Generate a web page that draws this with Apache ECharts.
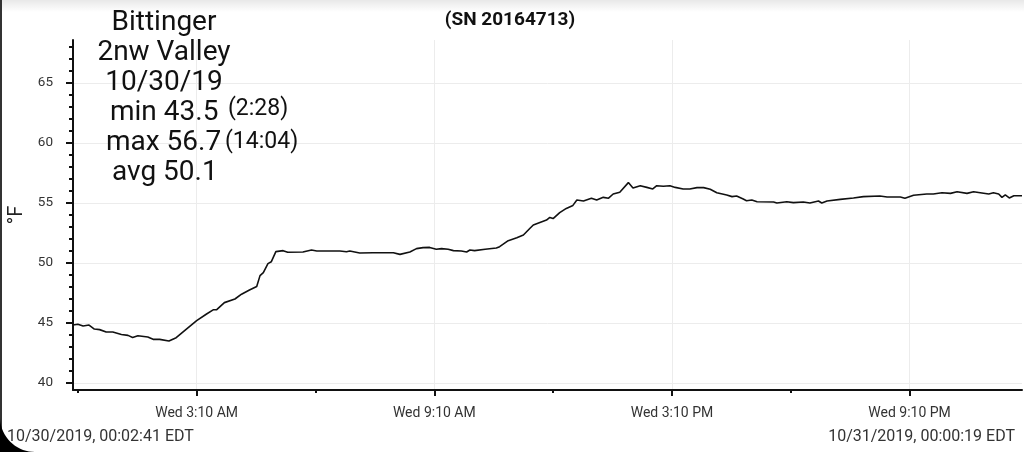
<!DOCTYPE html>
<html>
<head>
<meta charset="utf-8">
<script src="https://cdn.jsdelivr.net/npm/echarts@6/dist/echarts.min.js"></script>
<style>
  html, body { margin: 0; padding: 0; background: #fff; }
  #chart { width: 1024px; height: 452px; }
</style>
</head>
<body>
<div id="chart"></div>
<script>
// minutes since midnight, 10/30/2019
const times = [2.7, 10, 18, 27, 35, 43, 53, 63, 76, 86, 93, 101, 116, 124, 134, 148, 159, 174, 190,
  205, 215, 220, 232, 248, 258, 270, 281, 286, 291, 298, 303, 310, 321, 328, 351, 364, 372, 407,
  417, 422, 437, 457, 488, 498, 513, 523, 533, 543, 553, 561, 571, 579, 591, 599, 604, 611, 627,
  644, 649, 662, 675, 685, 695, 700, 713, 720, 725, 730, 740, 750, 760, 766, 776, 788, 796, 806,
  814, 821, 831, 844, 851, 862, 872, 881, 887, 897, 907, 915, 927, 937, 948, 958, 968, 978, 993,
  1001, 1008, 1018, 1023, 1031, 1039, 1064, 1069, 1084, 1094, 1109, 1119, 1132, 1137, 1145, 1165,
  1185, 1200, 1225, 1236, 1256, 1263, 1276, 1296, 1306, 1319, 1332, 1342, 1357, 1367, 1377, 1390,
  1397, 1405, 1410, 1415, 1421, 1428, 1440.3]
// °F
const temps = [44.83, 44.9, 44.75, 44.83, 44.5, 44.45, 44.25, 44.25, 44.05, 43.97, 43.8, 43.94, 43.83,
  43.64, 43.64, 43.5, 43.78, 44.47, 45.2, 45.75, 46.1, 46.1, 46.7, 47.0, 47.4, 47.75, 48.05, 48.95,
  49.2, 49.95, 50.1, 50.95, 51.03, 50.9, 50.92, 51.08, 51.0, 51.0, 50.94, 51.0, 50.83, 50.86, 50.86,
  50.72, 50.92, 51.2, 51.28, 51.3, 51.14, 51.2, 51.14, 51.03, 51.0, 50.92, 51.08, 51.03, 51.14,
  51.25, 51.36, 51.86, 52.1, 52.33, 52.9, 53.17, 53.44, 53.58, 53.8, 53.7, 54.2, 54.55, 54.8, 55.25,
  55.17, 55.4, 55.25, 55.47, 55.4, 55.75, 55.9, 56.7, 56.25, 56.44, 56.3, 56.17, 56.44, 56.39, 56.44,
  56.3, 56.17, 56.17, 56.28, 56.28, 56.14, 55.86, 55.67, 55.53, 55.58, 55.33, 55.19, 55.25, 55.1,
  55.08, 55.0, 55.1, 55.03, 55.08, 55.0, 55.17, 55.0, 55.17, 55.3, 55.42, 55.53, 55.58, 55.5, 55.5,
  55.39, 55.64, 55.75, 55.75, 55.86, 55.8, 55.94, 55.8, 55.94, 55.86, 55.75, 55.86, 55.75, 55.47,
  55.67, 55.42, 55.6, 55.6]

const xStart = 2.68      // 00:02:41
const xEnd = 1440.32     // 00:00:19 next day
const xMajorTicks = [190, 550, 910, 1270]
const xTickLabels = ['Wed 3:10 AM', 'Wed 9:10 AM', 'Wed 3:10 PM', 'Wed 9:10 PM']
const xMinorTicks = [10, 370, 730, 1090]

const yMin = 39.42
const yMax = 68.58
const yMajorTicks = [40, 45, 50, 55, 60, 65]
const yMinorTicks = [41, 42, 43, 44, 46, 47, 48, 49, 51, 52, 53, 54, 56, 57, 58, 59, 61, 62, 63, 64, 66, 67, 68]

const chart = echarts.init(document.getElementById('chart'))
const font = 'Roboto, sans-serif'

// rounded screen corner, bottom left
const cornerR = 35
const cornerPts = [[0, 452 - cornerR], [0, 452]]
for (let a = 90; a <= 180; a += 5) {
  const rad = a * Math.PI / 180
  cornerPts.push([cornerR + cornerR * Math.cos(rad), 452 - cornerR + cornerR * Math.sin(rad)])
}

const text = (x, y, str, size, align, extra) => ({
  type: 'text', x, y, z: 50,
  style: Object.assign({ text: str, font: size + 'px ' + font, fill: '#111', align, verticalAlign: 'middle' }, extra || {}),
})

const option = {
  animation: false,
  backgroundColor: '#fff',
  grid: { left: 73, right: 2, top: 40, bottom: 62, outerBoundsMode: 'none', containLabel: false },
  xAxis: [
    {
      type: 'value',
      min: xStart,
      max: xEnd,
      axisLine: { lineStyle: { color: '#111', width: 2 } },
      axisTick: { customValues: xMajorTicks, length: 6, lineStyle: { color: '#111', width: 2 } },
      axisLabel: {
        customValues: xMajorTicks,
        margin: 16,
        color: '#333',
        fontSize: 14,
        fontFamily: font,
        formatter: v => xTickLabels[xMajorTicks.indexOf(v)] || '',
      },
      splitLine: { show: true, lineStyle: { color: '#ececec', width: 1 } },
    },
    {
      type: 'value',
      min: xStart,
      max: xEnd,
      position: 'bottom',
      axisLine: { show: false },
      axisTick: { customValues: xMinorTicks, length: 3, lineStyle: { color: '#111', width: 2 } },
      axisLabel: { show: false },
      splitLine: { show: false },
    },
  ],
  yAxis: [
    {
      type: 'value',
      min: yMin,
      max: yMax,
      name: '°F',
      nameLocation: 'middle',
      nameRotate: 90,
      nameGap: 45,
      nameTextStyle: { color: '#222', fontSize: 20, fontFamily: font },
      axisLine: { show: true, lineStyle: { color: '#111', width: 2 } },
      axisTick: { customValues: yMajorTicks, length: 7, lineStyle: { color: '#111', width: 2 } },
      axisLabel: { customValues: yMajorTicks, margin: 20, color: '#333', fontSize: 13.5, fontFamily: font },
      splitLine: { show: true, lineStyle: { color: '#ececec', width: 1 } },
    },
    {
      type: 'value',
      min: yMin,
      max: yMax,
      position: 'left',
      axisLine: { show: false },
      axisTick: { show: true, customValues: yMinorTicks, length: 4, lineStyle: { color: '#111', width: 2 } },
      axisLabel: { show: false },
      splitLine: { show: false },
    },
  ],
  series: [
    {
      type: 'line',
      xAxisIndex: 0,
      yAxisIndex: 0,
      data: times.map((t, i) => [t, temps[i]]),
      showSymbol: false,
      lineStyle: { color: '#111', width: 1.6 },
    },
  ],
  graphic: [
    {
      type: 'rect', left: 0, top: 0, z: 100,
      shape: { width: 1024, height: 12 },
      style: { fill: new echarts.graphic.LinearGradient(0, 0, 0, 1, [
        { offset: 0, color: 'rgba(0,0,0,0.09)' },
        { offset: 1, color: 'rgba(0,0,0,0)' },
      ]) },
    },
    { type: 'rect', left: 0, top: 0, z: 100, shape: { width: 2, height: 452 }, style: { fill: '#333' } },
    { type: 'polygon', z: 100, shape: { points: cornerPts }, style: { fill: '#000' } },
    text(510, 20, '(SN 20164713)', 19, 'center', { font: 'bold 19px ' + font }),
    text(164, 23, 'Bittinger', 28, 'center'),
    text(164, 53, '2nw Valley', 28, 'center'),
    text(164, 83, '10/30/19', 28, 'center'),
    text(110, 113, 'min 43.5', 28, 'left'),
    text(228, 109, '(2:28)', 23, 'left'),
    text(106, 143, 'max 56.7', 28, 'left'),
    text(225, 142, '(14:04)', 23, 'left'),
    text(112, 173, 'avg 50.1', 28, 'left'),
    text(7, 437, '10/30/2019, 00:02:41 EDT', 16, 'left', { fill: '#333' }),
    text(1015, 437, '10/31/2019, 00:00:19 EDT', 16, 'right', { fill: '#333' }),
  ],
}

chart.setOption(option)
</script>
</body>
</html>
